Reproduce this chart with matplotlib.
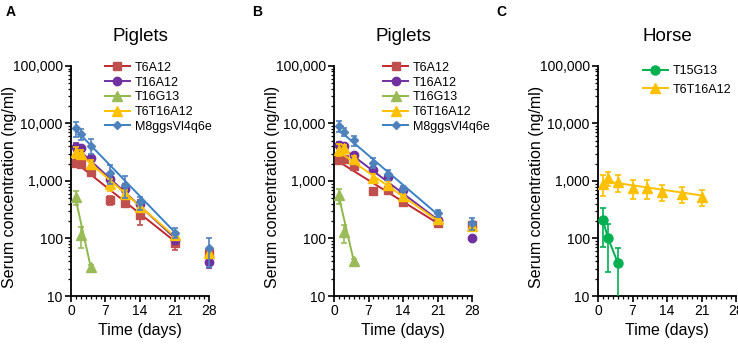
import numpy as np
import matplotlib
matplotlib.use('Agg')
import matplotlib.pyplot as plt
from matplotlib.ticker import FuncFormatter, LogLocator, MultipleLocator, NullFormatter
from matplotlib.lines import Line2D

plt.rcParams['font.family'] = ['Liberation Sans', 'DejaVu Sans']

# ---- data ----
pig_days = [1, 2, 4, 8, 11, 14, 21, 28]
g13_days = [1, 2, 4]
pig_names = ['T6A12', 'T16A12', 'T16G13', 'T6T16A12', 'M8ggsVl4q6e']

# panel A
a_t6a12 = [2070, 2000, 1440, 464, 415, 254, 84, 55]
a_t6a12_sd = [300, 250, 200, 80, 60, 85, 22, 12]
a_t16a12 = [3900, 3700, 2500, 1100, 720, 400, 96, 39]
a_t16a12_sd = [600, 400, 300, 200, 150, 60, 15, 8]
a_t16g13 = [530, 114, 32]
a_t16g13_sd = [150, 45, 3]
a_t6t16a12 = [3250, 3000, 2000, 870, 600, 355, 113, 55]
a_t6t16a12_sd = [700, 500, 300, 200, 100, 50, 15, 10]
a_m8 = [8200, 6500, 4100, 1400, 850, 425, 127, 67]
a_m8_sd = [2500, 1400, 1200, 500, 350, 110, 25, 35]
# fitted lines: value at first and last fitted day
a_fit_start = [2070, 3850, 465, 3370, 7700]
a_fit_end = [90, 103, 32, 110, 130]

# panel B
b_t6a12 = [2360, 2450, 1800, 660, 690, 430, 185, 170]
b_t6a12_sd = [250, 200, 150, 60, 60, 60, 15, 10]
b_t16a12 = [4190, 4030, 2880, 1580, 1175, 690, 212, 104]
b_t16a12_sd = [500, 400, 200, 150, 100, 60, 20, 8]
b_t16g13 = [560, 129, 40]
b_t16g13_sd = [170, 45, 4]
b_t6t16a12 = [3520, 3680, 2450, 1140, 860, 540, 220, 162]
b_t6t16a12_sd = [800, 600, 300, 200, 120, 60, 20, 12]
b_m8 = [8980, 7160, 5130, 2060, 1310, 735, 277, 185]
b_m8_sd = [1900, 1100, 1000, 400, 250, 90, 40, 45]
b_fit_start = [2150, 4190, 526, 3200, 7650]
b_fit_end = [185, 214, 41, 206, 263]

# panel C (horse)
c_names = ['T15G13', 'T6T16A12']
c_g13_days = [1, 2, 4]
c_t15g13 = [207, 104, 38]
c_t15g13_sd = [136, 78, 29]
c_days = [1, 2, 4, 7, 10, 13, 17, 21]
c_t6t16a12 = [900, 1110, 950, 765, 765, 652, 600, 526]
c_t6t16a12_sd = [360, 300, 300, 280, 280, 200, 180, 160]
c_fit = [1000, 560]

# ---- styles ----
pig_marker_colors = ['#C0504D', '#7030A0', '#9BBB59', '#FFC000', '#4F81BD']
pig_line_colors = ['#C0282D', '#7030A0', '#8DB84A', '#FFC000', '#3A80C4']
pig_markers = ['s', 'o', '^', '^', 'D']
pig_msizes = [6, 6, 6.5, 6.5, 4.5]

fig = plt.figure(figsize=(7.38, 3.46), dpi=100)

ax_w, ax_h, ax_b = 0.187, 0.665, 0.1445
lefts = [0.0962, 0.4526, 0.8103]
axes = [fig.add_axes([l, ax_b, ax_w, ax_h]) for l in lefts]


def style_axis(ax, title):
    ax.set_yscale('log', nonpositive='clip')
    ax.set_ylim(10, 100000)
    ax.set_xlim(0, 28)
    ax.yaxis.set_major_locator(LogLocator(base=10))
    ax.yaxis.set_minor_locator(LogLocator(base=10, subs=np.arange(2, 10)))
    ax.yaxis.set_minor_formatter(NullFormatter())
    ax.yaxis.set_major_formatter(FuncFormatter(lambda v, p: '{:,.0f}'.format(v)))
    ax.xaxis.set_major_locator(MultipleLocator(7))
    ax.xaxis.set_minor_locator(MultipleLocator(1))
    for s in ['top', 'right']:
        ax.spines[s].set_visible(False)
    for s in ['left', 'bottom']:
        ax.spines[s].set_linewidth(1.3)
    ax.tick_params(which='major', direction='out', length=4, width=1.2, labelsize=10, pad=2)
    ax.tick_params(which='minor', direction='out', length=2.5, width=0.9)
    ax.set_xlabel('Time (days)', fontsize=11.5, labelpad=3)
    ax.set_ylabel('Serum concentration (ng/ml)', fontsize=11.5)
    # the label overlaps the tick labels, as in the original figure
    ax.yaxis.set_label_coords(-0.39, 0.475)
    ax.set_title(title, fontsize=13.5, pad=18)


def draw_piglets(ax, series, sds, fit_start, fit_end):
    for i in range(len(pig_names)):
        d = g13_days if i == 2 else pig_days
        ax.errorbar(d, series[i], yerr=sds[i], fmt=pig_markers[i], ms=pig_msizes[i],
                    color=pig_marker_colors[i], ecolor=pig_marker_colors[i],
                    elinewidth=1.2, capsize=2.5, capthick=1.2, clip_on=False, zorder=3 + i)
        fd = [g13_days[0], g13_days[-1]] if i == 2 else [pig_days[0], pig_days[-2]]
        ax.plot(fd, [fit_start[i], fit_end[i]], '-', color=pig_line_colors[i], lw=1.4, zorder=3 + i)
    handles = [Line2D([], [], color=pig_line_colors[i], marker=pig_markers[i],
                      markerfacecolor=pig_marker_colors[i], markeredgecolor=pig_marker_colors[i],
                      ms=pig_msizes[i], lw=1.4) for i in range(len(pig_names))]
    return handles


series_a = [a_t6a12, a_t16a12, a_t16g13, a_t6t16a12, a_m8]
sds_a = [a_t6a12_sd, a_t16a12_sd, a_t16g13_sd, a_t6t16a12_sd, a_m8_sd]
series_b = [b_t6a12, b_t16a12, b_t16g13, b_t6t16a12, b_m8]
sds_b = [b_t6a12_sd, b_t16a12_sd, b_t16g13_sd, b_t6t16a12_sd, b_m8_sd]

# panel A
style_axis(axes[0], 'Piglets')
h = draw_piglets(axes[0], series_a, sds_a, a_fit_start, a_fit_end)
axes[0].legend(h, pig_names, loc='upper left', bbox_to_anchor=(0.2, 1.045), frameon=False,
               fontsize=9, handlelength=2.0, handletextpad=0.4, labelspacing=0.22, borderpad=0)

# panel B
style_axis(axes[1], 'Piglets')
h = draw_piglets(axes[1], series_b, sds_b, b_fit_start, b_fit_end)
axes[1].legend(h, pig_names, loc='upper left', bbox_to_anchor=(0.31, 1.045), frameon=False,
               fontsize=9, handlelength=2.0, handletextpad=0.4, labelspacing=0.22, borderpad=0)

# panel C
ax = axes[2]
style_axis(ax, 'Horse')
green, yellow = '#00B050', '#FFC000'
ax.errorbar(c_g13_days, c_t15g13, yerr=c_t15g13_sd, fmt='o-', ms=6.5, color=green,
            lw=1.4, elinewidth=1.2, capsize=2.5, capthick=1.2, zorder=3)
ax.errorbar(c_days, c_t6t16a12, yerr=c_t6t16a12_sd, fmt='^', ms=6.5, color=yellow,
            elinewidth=1.2, capsize=2.5, capthick=1.2, zorder=4)
ax.plot([c_days[0], c_days[-1]], c_fit, '-', color=yellow, lw=1.4, zorder=4)
hc = [Line2D([], [], color=green, marker='o', ms=6.5, lw=1.4),
      Line2D([], [], color=yellow, marker='^', ms=6.5, lw=1.4)]
ax.legend(hc, c_names, loc='upper left', bbox_to_anchor=(0.28, 1.03), frameon=False,
          fontsize=9, handlelength=2.0, handletextpad=0.4, labelspacing=0.5, borderpad=0)

for lab, x in zip(['A', 'B', 'C'], [0.008, 0.341, 0.672]):
    fig.text(x, 0.985, lab, fontsize=10, fontweight='bold', va='top', ha='left')

fig.savefig('out.png', dpi=100)
